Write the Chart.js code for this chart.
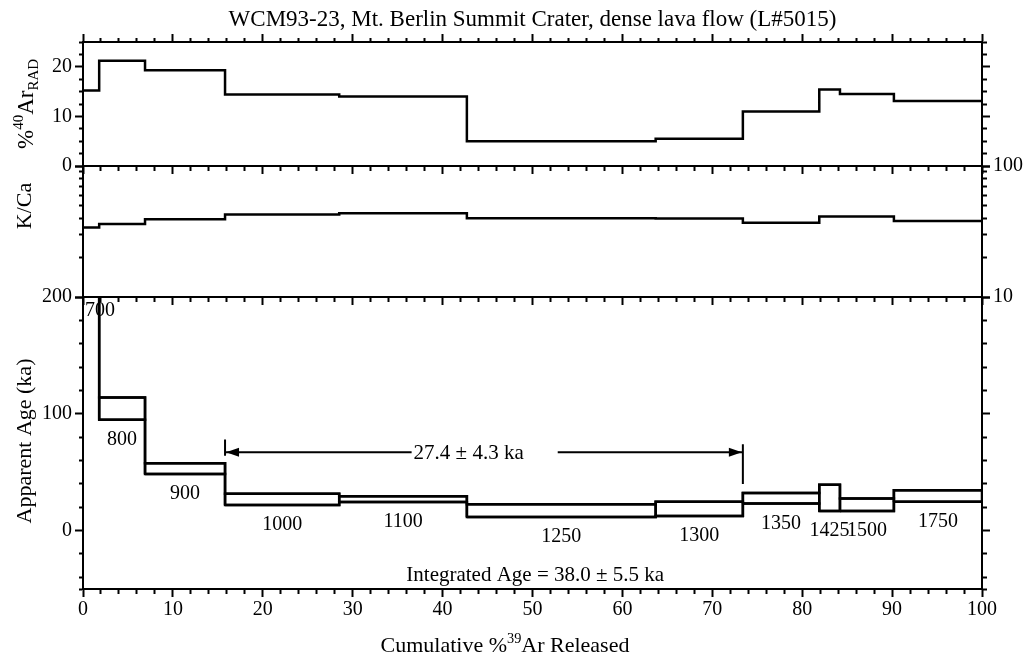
<!DOCTYPE html>
<html lang="en">
<head>
<meta charset="utf-8">
<title>WCM93-23 step-heating spectrum</title>
<script src="https://cdn.jsdelivr.net/npm/chart.js@4.4.1/dist/chart.umd.min.js"></script>
<style>
  html, body { margin: 0; background: #fff; }
  .stage { position: relative; width: 1027px; height: 663px; overflow: hidden; }
  .stage canvas { position: absolute; left: 0; top: 0; }
</style>
</head>
<body>
<div class="stage">
  <canvas id="radChart" width="1027" height="663"></canvas>
  <canvas id="kcaChart" width="1027" height="663"></canvas>
  <canvas id="ageChart" width="1027" height="663"></canvas>
</div>
<script>
// heating steps: edges along cumulative %39Ar (one more edge than steps)
const stepEdges = [0, 1.8, 6.9, 15.8, 28.5, 42.7, 63.7, 73.4, 81.9, 84.2, 90.2, 100];
const stepTemps = [700, 800, 900, 1000, 1100, 1250, 1300, 1350, 1425, 1500, 1750];
const radiogenic = [15.2, 21.2, 19.3, 14.4, 14.0, 5.0, 5.5, 11.0, 15.4, 14.5, 13.1];
const kCaRatio = [34.0, 36.0, 39.3, 42.7, 43.5, 40.0, 39.7, 36.9, 41.2, 41.2, 38.0];
// apparent age envelope (ka), 1 sigma; the 700 step is off scale
const ageLow = [240, 94.8, 48.5, 21.9, 24.5, 11.6, 12.6, 23.2, 16.8, 16.8, 24.7];
const ageHigh = [330, 114.0, 57.7, 31.6, 29.5, 22.6, 24.7, 32.2, 39.2, 27.4, 34.5];

// plateau: steps 1000 through 1300
const plateauFirstStep = 3;
const plateauLastStep = 6;
const plateauText = '27.4 \u00b1 4.3 ka';
const plateauArrowAge = 67;
const plateauTextAt = 42.9;
const plateauLeftBar = [64, 78];
const plateauRightBar = [40, 74];
const integratedText = 'Integrated Age = 38.0 \u00b1 5.5 ka';
const integratedAt = { x: 50.3, y: -38.5 };

function range(from, to, step) {
  const out = [];
  for (let v = from; v <= to + 1e-9; v += step) out.push(Math.round(v * 1000) / 1000);
  return out;
}

const xTickValues = range(0, 100, 2);
const xTickLabels = range(0, 100, 10);
const radTickValues = range(0, 25, 2.5);
const radTickLabels = [0, 10, 20];
const kcaTickValues = range(10, 100, 10);
const kcaTickLabels = [10, 100];
const ageTickValues = [-50, ...range(-40, 200, 20)];
const ageTickLabels = [0, 100, 200];

const INK = '#000';
const SERIF = '"Liberation Serif", "Times New Roman", serif';
const PAGE_H = 663;
const PLOT_LEFT = 83;
const RIGHT_GUTTER = 1027 - 982;
const RAD_BOTTOM = 166;
const KCA_BOTTOM = 297;
const AGE_BOTTOM = 589;
const PANEL_TOP = 42;
const TITLE_BLOCK = 23 * 1.2 + 6;
const TICK_LEN = 8;
const MINOR_LEN = 4;
const SKIRT = 14;

Chart.defaults.font.family = SERIF;
Chart.defaults.color = INK;

function fixedTicks(values) {
  return scale => { scale.ticks = values.map(value => ({ value })); };
}

// minor ticks are the inner half of a full tick, done with a dash pattern
function gridFor(position, majors) {
  const outerFirst = position === 'left' || position === 'top';
  return {
    drawOnChartArea: false,
    drawTicks: true,
    tickLength: TICK_LEN,
    tickWidth: 2,
    tickColor: INK,
    tickBorderDash(ctx) {
      if (!ctx.tick || majors.includes(ctx.tick.value)) return [];
      return outerFirst ? [0, TICK_LEN - MINOR_LEN, MINOR_LEN, 50] : [MINOR_LEN, 50];
    }
  };
}

function xAxis(position, withLabels, height) {
  return {
    type: 'linear',
    position,
    min: 0,
    max: 100,
    afterBuildTicks: fixedTicks(xTickValues),
    afterFit(scale) { scale.height = height; },
    grid: gridFor(position, xTickLabels),
    border: { color: INK, width: 2 },
    ticks: {
      display: withLabels,
      autoSkip: false,
      maxRotation: 0,
      padding: 1,
      font: { size: 20 },
      color: INK,
      callback: v => (xTickLabels.includes(v) ? String(v) : '')
    }
  };
}

function yAxis(position, o) {
  return {
    type: o.type || 'linear',
    position,
    min: o.min,
    max: o.max,
    afterBuildTicks: fixedTicks(o.ticks),
    afterFit(scale) { scale.width = position === 'left' ? PLOT_LEFT : RIGHT_GUTTER; },
    grid: gridFor(position, o.majors),
    border: { color: INK, width: 2 },
    ticks: {
      display: !!o.labels,
      autoSkip: false,
      padding: 3,
      font: { size: 20 },
      color: INK,
      callback: v => (o.labels && o.labels.includes(v) ? String(v) : '')
    }
  };
}

function stepPoints(values) {
  return stepEdges.map((x, i) => ({ x, y: values[Math.min(i, values.length - 1)] }));
}

function lineSet(data, stepped) {
  return {
    data,
    stepped,
    borderColor: INK,
    borderWidth: 2.5,
    borderJoinStyle: 'miter',
    pointRadius: 0,
    tension: 0,
    fill: false
  };
}

function boxCorners(i) {
  const x0 = stepEdges[i], x1 = stepEdges[i + 1];
  return [
    { x: x0, y: ageLow[i] }, { x: x0, y: ageHigh[i] },
    { x: x1, y: ageHigh[i] }, { x: x1, y: ageLow[i] }, { x: x0, y: ageLow[i] }
  ];
}

// text with sub/superscripts, optionally rotated to read bottom-up
function drawRich(ctx, item) {
  ctx.save();
  ctx.translate(item.x, item.y);
  if (item.rotate) ctx.rotate(-Math.PI / 2);
  ctx.fillStyle = INK;
  ctx.textBaseline = 'alphabetic';
  ctx.textAlign = 'left';
  const widths = item.parts.map(p => {
    ctx.font = `${item.size * (p.scale || 1)}px ${SERIF}`;
    return ctx.measureText(p.text).width;
  });
  let cx = -widths.reduce((a, b) => a + b, 0) / 2;
  item.parts.forEach((p, i) => {
    ctx.font = `${item.size * (p.scale || 1)}px ${SERIF}`;
    ctx.fillText(p.text, cx, item.size * 0.33 + (p.dy || 0) * item.size);
    cx += widths[i];
  });
  ctx.restore();
}

function richLabels(items) {
  return { id: 'richLabels', afterDraw(chart) { items.forEach(item => drawRich(chart.ctx, item)); } };
}

function panelOptions(padding, scales, title) {
  return {
    responsive: false,
    animation: false,
    events: [],
    layout: { padding: Object.assign({ left: 0, right: 0 }, padding) },
    plugins: {
      legend: { display: false },
      tooltip: { enabled: false },
      title: title || { display: false }
    },
    scales
  };
}

// step temperatures, plateau bracket and integrated age
const ageNotes = {
  id: 'ageNotes',
  afterDatasetsDraw(chart) {
    const { ctx, chartArea } = chart;
    const x = chart.scales.x;
    const y = chart.scales.y;
    ctx.save();
    ctx.fillStyle = INK;
    ctx.strokeStyle = INK;
    ctx.textAlign = 'center';
    ctx.textBaseline = 'middle';

    ctx.font = `20px ${SERIF}`;
    stepTemps.forEach((t, i) => {
      const text = String(t);
      const half = ctx.measureText(text).width / 2;
      const cx = Math.max(chartArea.left + half + 2, x.getPixelForValue((stepEdges[i] + stepEdges[i + 1]) / 2));
      const cy = Math.max(chartArea.top + 14, y.getPixelForValue(ageLow[i]) + 20);
      ctx.fillText(text, cx, cy);
    });

    const xa = x.getPixelForValue(stepEdges[plateauFirstStep]);
    const xb = x.getPixelForValue(stepEdges[plateauLastStep + 1]);
    const ya = y.getPixelForValue(plateauArrowAge);
    ctx.font = `21px ${SERIF}`;
    const tx = x.getPixelForValue(plateauTextAt);
    const tw = ctx.measureText(plateauText).width;
    ctx.fillText(plateauText, tx, ya + 1);

    ctx.lineWidth = 2;
    ctx.beginPath();
    ctx.moveTo(xa, ya); ctx.lineTo(tx - tw / 2 - 2, ya);
    ctx.moveTo(tx + tw / 2 + 34, ya); ctx.lineTo(xb, ya);
    ctx.moveTo(xa, y.getPixelForValue(plateauLeftBar[0])); ctx.lineTo(xa, y.getPixelForValue(plateauLeftBar[1]));
    ctx.moveTo(xb, y.getPixelForValue(plateauRightBar[0])); ctx.lineTo(xb, y.getPixelForValue(plateauRightBar[1]));
    ctx.stroke();

    ctx.beginPath();
    ctx.moveTo(xa + 1, ya); ctx.lineTo(xa + 14, ya - 4.5); ctx.lineTo(xa + 14, ya + 4.5); ctx.closePath();
    ctx.moveTo(xb - 1, ya); ctx.lineTo(xb - 14, ya - 4.5); ctx.lineTo(xb - 14, ya + 4.5); ctx.closePath();
    ctx.fill();

    ctx.fillText(integratedText, x.getPixelForValue(integratedAt.x), y.getPixelForValue(integratedAt.y));
    ctx.restore();
  }
};

new Chart(document.getElementById('radChart'), {
  type: 'line',
  data: { datasets: [lineSet(stepPoints(radiogenic), true)] },
  options: panelOptions(
    { top: 0, bottom: PAGE_H - RAD_BOTTOM - SKIRT },
    {
      xTop: xAxis('top', false, PANEL_TOP - TITLE_BLOCK),
      x: xAxis('bottom', false, SKIRT),
      y: yAxis('left', { min: 0, max: 25, ticks: radTickValues, majors: radTickLabels, labels: radTickLabels }),
      yRight: yAxis('right', { min: 0, max: 25, ticks: radTickValues, majors: radTickLabels })
    },
    {
      display: true,
      text: 'WCM93-23, Mt. Berlin Summit Crater, dense lava flow (L#5015)',
      fullSize: false,
      color: INK,
      font: { size: 23, weight: 'normal', family: SERIF },
      padding: { top: 6, bottom: 0 }
    }
  ),
  plugins: [richLabels([{
    x: 25, y: 104, size: 23, rotate: true,
    parts: [{ text: '%' }, { text: '40', scale: 0.65, dy: -0.4 }, { text: 'Ar' }, { text: 'RAD', scale: 0.65, dy: 0.22 }]
  }])]
});

new Chart(document.getElementById('kcaChart'), {
  type: 'line',
  data: { datasets: [lineSet(stepPoints(kCaRatio), true)] },
  options: panelOptions(
    { top: RAD_BOTTOM, bottom: PAGE_H - KCA_BOTTOM - SKIRT },
    {
      x: xAxis('bottom', false, SKIRT),
      y: yAxis('left', { type: 'logarithmic', min: 10, max: 100, ticks: kcaTickValues, majors: kcaTickLabels }),
      yRight: yAxis('right', { type: 'logarithmic', min: 10, max: 100, ticks: kcaTickValues, majors: kcaTickLabels, labels: kcaTickLabels })
    }
  ),
  plugins: [richLabels([{ x: 24, y: 206, size: 22, rotate: true, parts: [{ text: 'K/Ca' }] }])]
});

new Chart(document.getElementById('ageChart'), {
  type: 'line',
  data: {
    datasets: [
      lineSet(stepPoints(ageHigh), true),
      lineSet(stepPoints(ageLow), true),
      ...stepTemps.map((t, i) => lineSet(boxCorners(i), false))
    ]
  },
  options: panelOptions(
    { top: KCA_BOTTOM, bottom: 0 },
    {
      x: xAxis('bottom', true, PAGE_H - AGE_BOTTOM),
      y: yAxis('left', { min: -50, max: 200, ticks: ageTickValues, majors: ageTickLabels, labels: ageTickLabels }),
      yRight: yAxis('right', { min: -50, max: 200, ticks: ageTickValues, majors: ageTickLabels })
    }
  ),
  plugins: [ageNotes, richLabels([
    { x: 24, y: 441, size: 22, rotate: true, parts: [{ text: 'Apparent Age (ka)' }] },
    { x: 505, y: 645, size: 22, parts: [{ text: 'Cumulative %' }, { text: '39', scale: 0.65, dy: -0.4 }, { text: 'Ar Released' }] }
  ])]
});
</script>
</body>
</html>
